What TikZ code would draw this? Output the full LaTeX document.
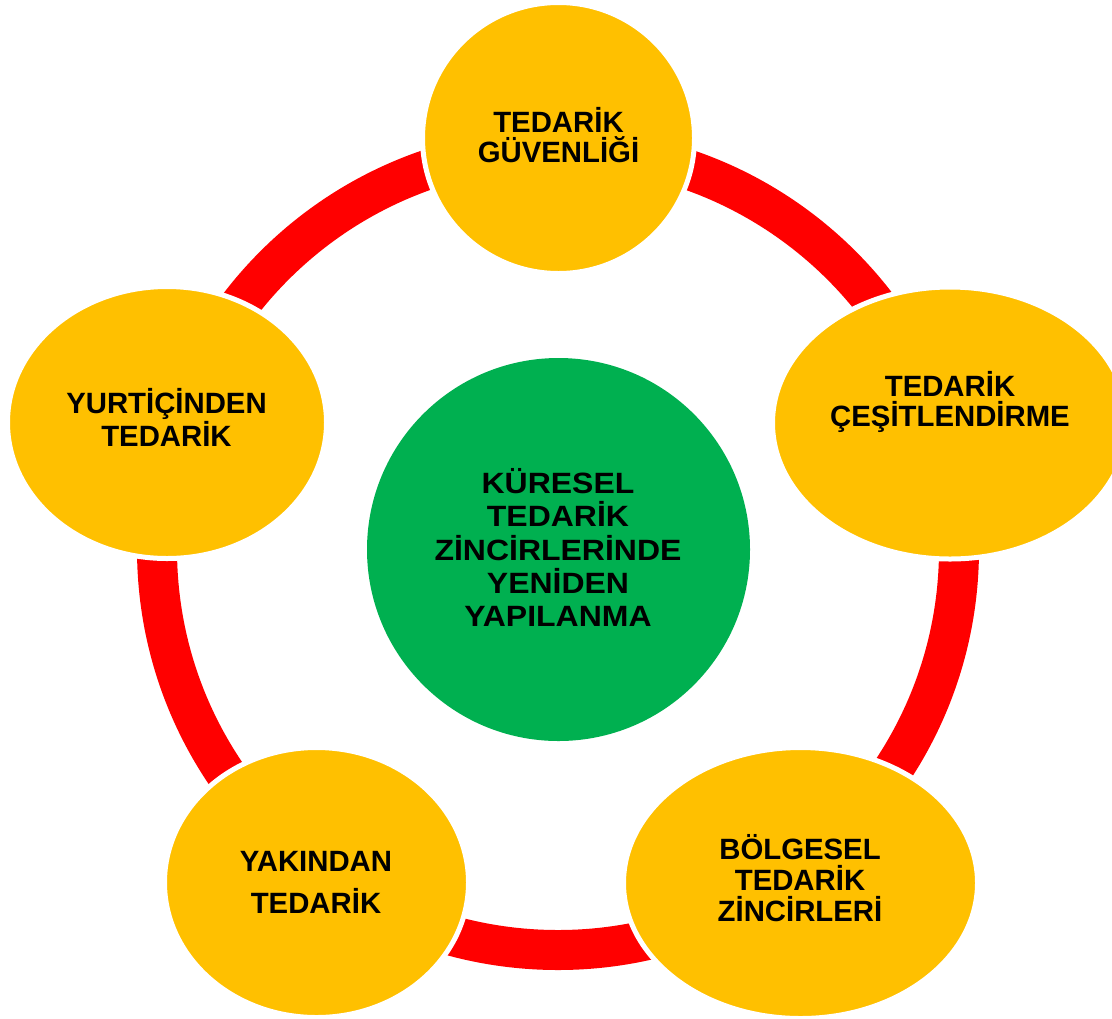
\documentclass[tikz,border=0pt]{standalone}
\usepackage{fontspec}
\setmainfont{Liberation Sans}
\newfontfamily\hubfont[FakeStretch=1.09]{Liberation Sans}
\usetikzlibrary{shapes.geometric}
\definecolor{ringred}{HTML}{FF0000}
\definecolor{petalyellow}{HTML}{FFC000}
\definecolor{hubgreen}{HTML}{00B050}
\begin{document}
\begin{tikzpicture}[x=0.75pt,y=-0.75pt,
  petal/.style={ellipse, fill=petalyellow, draw=white, line width=3.75pt, inner sep=0pt, outer sep=0pt},
  hub/.style={circle, fill=hubgreen, inner sep=0pt, outer sep=0pt, minimum size=287.25pt},
  lbl/.style={align=center, anchor=base, inner sep=0pt},
  ringline/.style={draw=ringred, line width=30pt}
]
\useasboundingbox (0,0) rectangle (1112,1018);
\clip (0,0) rectangle (1112,1018);
\coordinate (c) at (558,549);
% ring
\path[ringline] (c) circle[radius=401];
% hub
\node[hub] (hubnode) at (558.5,549.5) {};
% petals
\node[petal, minimum width=204pt, minimum height=203.25pt] (p1) at (558.5,138) {};
\node[petal, minimum width=266.25pt, minimum height=204pt] (p2) at (950,423) {};
\node[petal, minimum width=265.5pt, minimum height=203.25pt] (p3) at (800.5,883) {};
\node[petal, minimum width=228pt, minimum height=202.5pt] (p4) at (316.5,882.5) {};
\node[petal, minimum width=239.25pt, minimum height=204pt] (p5) at (167,422.5) {};
% labels (anchored at the baseline of the last line)
\node[lbl, font=\hubfont\fontsize{22}{25}\selectfont\bfseries] (t0) at (558,626.7) {KÜRESEL\\TEDARİK\\ZİNCİRLERİNDE\\YENİDEN\\YAPILANMA};
\node[lbl, font=\fontsize{22}{22.5}\selectfont\bfseries] (t1) at (558.5,162) {TEDARİK\\GÜVENLİĞİ};
\node[lbl, font=\fontsize{22}{22.5}\selectfont\bfseries] (t2) at (950,426.7) {TEDARİK\\ÇEŞİTLENDİRME};
\node[lbl, font=\fontsize{22}{23.25}\selectfont\bfseries] (t3) at (800,921.7) {BÖLGESEL\\TEDARİK\\ZİNCİRLERİ};
\node[lbl, font=\fontsize{22}{31.5}\selectfont\bfseries] (t4) at (316,913) {YAKINDAN\\TEDARİK};
\node[lbl, font=\fontsize{22}{22.1}\selectfont\bfseries] (t5) at (166.5,446) {YURTİÇİNDEN\\TEDARİK};
\end{tikzpicture}
\end{document}
